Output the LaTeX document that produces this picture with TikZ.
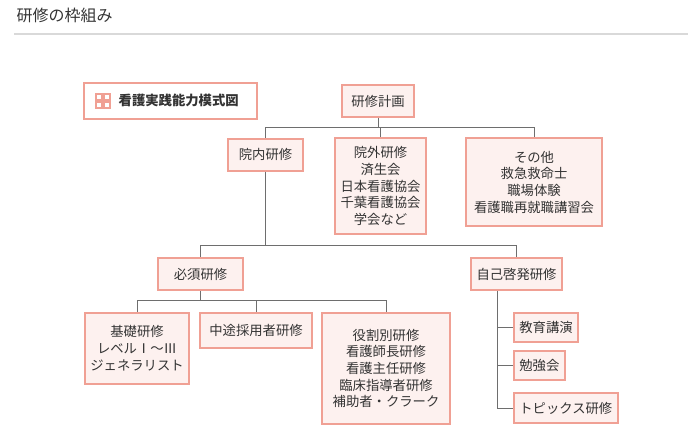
\documentclass[tikz,border=0pt]{standalone}
\usepackage{fontspec}
\setmainfont{Noto Sans CJK JP}
\usetikzlibrary{positioning}
\definecolor{salmon}{RGB}{240,160,148}
\definecolor{pinkfill}{RGB}{253,241,239}
\definecolor{linegray}{RGB}{110,110,110}
\tikzset{
  box/.style={draw=salmon, fill=pinkfill, line width=1.5pt, align=center, font=\fontsize{10}{12.5}\selectfont, text=black!80, inner sep=4pt},
  link/.style={draw=linegray, line width=0.6pt}
}
\begin{document}
\begin{tikzpicture}[x=0.75pt, y=-0.75pt]
  \useasboundingbox (0,0) rectangle (700,447);
  \node[anchor=west, font=\fontsize{12}{14}\selectfont, text=black!80] (title) at (12,15) {研修の枠組み};
  \draw[black!15, line width=0.8pt] (14,34) -- (688,34);
  % legend
  \node[draw=salmon, line width=1.5pt, fill=white, minimum width=130pt, minimum height=27pt] (legend) at (170.5,100.5) {};
  \node[font=\bfseries\fontsize{10}{12}\selectfont, text=black!80, anchor=west] (legendtext) at (114,100.5) {看護実践能力模式図};
  \foreach \dx/\dy in {0/0,8/0,0/8,8/8}
    \draw[salmon, line width=0.9pt] (96+\dx,94+\dy) rectangle ++(6,6);
  % top
  \node[box, minimum width=54pt, minimum height=24pt] (plan) at (378,101) {研修計画};
  \node[box, minimum width=56pt, minimum height=24pt] (inner) at (265.5,154.5) {院内研修};
  \node[box, anchor=north, minimum width=63pt, minimum height=72pt] (outer) at (380.5,137) {院外研修\\済生会\\日本看護協会\\千葉看護協会\\学会など};
  \node[box, anchor=north, minimum width=102pt, minimum height=66pt] (other) at (534,137) {その他\\救急救命士\\職場体験\\看護職再就職講習会};
  \coordinate (jtop) at (378,127);
  \draw[link] (plan) -- (jtop);
  \draw[link] (inner.north |- jtop) -- (other.north |- jtop);
  \draw[link] (outer.north |- jtop) -- (outer.north);
  \draw[link] (other.north |- jtop) -- (other.north);
  \draw[link] (inner.north |- jtop) -- (inner.north);
  % second level
  \node[box, minimum width=64pt, minimum height=24pt] (must) at (200.5,274) {必須研修};
  \node[box, minimum width=67pt, minimum height=24pt] (self) at (516.5,274) {自己啓発研修};
  \coordinate (jmid) at (265.5,245);
  \draw[link] (inner) -- (jmid);
  \draw[link] (must.north |- jmid) -- (self.north |- jmid);
  \draw[link] (must.north |- jmid) -- (must.north);
  \draw[link] (self.north |- jmid) -- (self.north);
  % must branches
  \node[box, anchor=north, minimum width=76pt, minimum height=53pt] (basic) at (137,312) {基礎研修\\レベルⅠ～Ⅲ\\ジェネラリスト};
  \node[box, anchor=north, minimum width=84pt, minimum height=26pt] (midcareer) at (256,312) {中途採用者研修};
  \node[box, anchor=north, minimum width=96pt, minimum height=83pt] (role) at (386,312) {役割別研修\\看護師長研修\\看護主任研修\\臨床指導者研修\\補助者・クラーク};
  \coordinate (jlow) at (200.5,300);
  \draw[link] (must) -- (jlow);
  \draw[link] (basic.north |- jlow) -- (role.north |- jlow);
  \foreach \n in {basic,midcareer,role}
    \draw[link] (\n.north |- jlow) -- (\n.north);
  % self branches
  \node[box, anchor=west, minimum height=22pt] (lecture) at (513,327.5) {教育講演};
  \node[box, anchor=west, minimum height=22pt] (study) at (513,365.5) {勉強会};
  \node[box, anchor=west, minimum height=22pt] (topics) at (513,408) {トピックス研修};
  \coordinate (jself) at (497,291);
  \draw[link] (jself) -- (jself |- topics);
  \foreach \n in {lecture,study,topics}
    \draw[link] (jself |- \n) -- (\n.west);
\end{tikzpicture}
\end{document}
